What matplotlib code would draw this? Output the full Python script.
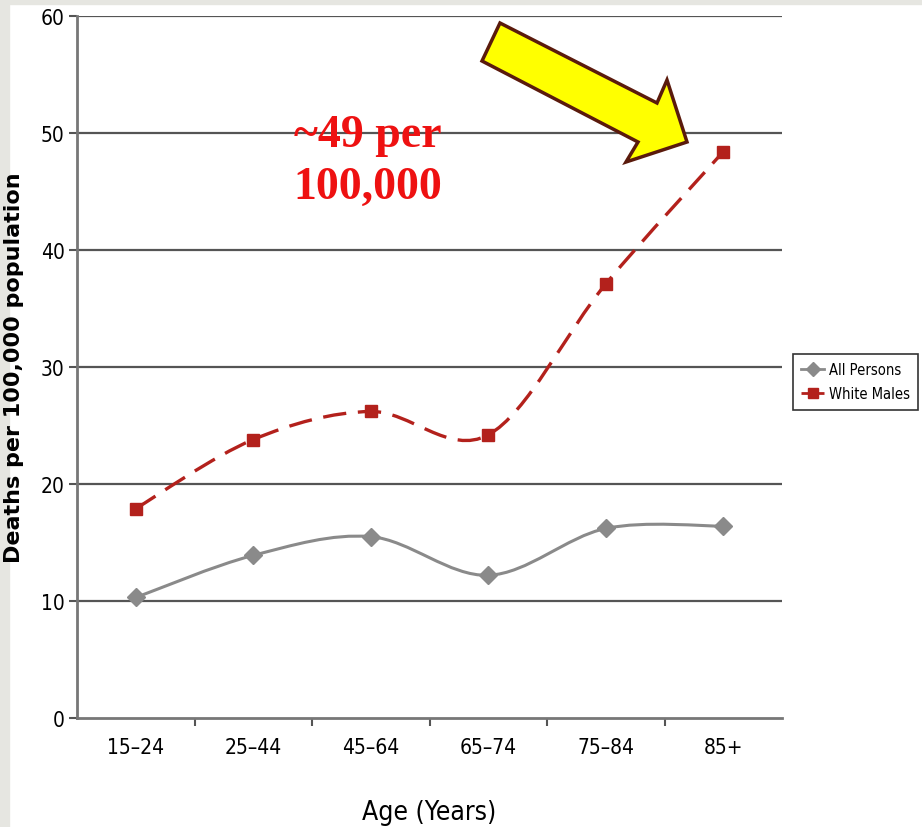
import numpy as np
import matplotlib
matplotlib.use('Agg')
import matplotlib.pyplot as plt
from matplotlib.path import Path
from matplotlib.patches import PathPatch, Polygon, Rectangle
from matplotlib.lines import Line2D
from matplotlib.font_manager import FontProperties

ages = ['15–24', '25–44', '45–64', '65–74', '75–84', '85+']
all_persons = [10.3, 13.9, 15.5, 12.2, 16.2, 16.4]
white_males = [17.9, 23.8, 26.2, 24.2, 37.1, 48.4]
yticks = [0, 10, 20, 30, 40, 50, 60]

gray = '#8a8a8a'
red = '#b3211c'


def narrow(size, weight='normal'):
    return FontProperties(family='DejaVu Sans', stretch='condensed', size=size, weight=weight)


def smooth_path(xs, ys):
    # bezier curve through the points, like a spreadsheet "smoothed line"
    pts = np.column_stack([xs, ys]).astype(float)
    n = len(pts)
    verts = [pts[0]]
    codes = [Path.MOVETO]
    for i in range(n - 1):
        p0 = pts[i - 1] if i > 0 else pts[i]
        p1 = pts[i]
        p2 = pts[i + 1]
        p3 = pts[i + 2] if i + 2 < n else pts[i + 1]
        c1 = p1 + (p2 - p0) / 6.0
        c2 = p2 - (p3 - p1) / 6.0
        verts += [c1, c2, p2]
        codes += [Path.CURVE4] * 3
    return Path(verts, codes)


fig = plt.figure(figsize=(9.22, 8.28), dpi=100)
fig.patch.set_facecolor('white')

# light frame strips from the slide
fig.patches.append(Rectangle((0, 0), 9 / 922, 1, transform=fig.transFigure, color='#e6e6e1', zorder=-1))
fig.patches.append(Rectangle((0, 1 - 5 / 828), 1, 5 / 828, transform=fig.transFigure, color='#e6e6e1', zorder=-1))

ax = fig.add_axes([77 / 922, 1 - 719 / 828, (782 - 77) / 922, (719 - 17) / 828])
x = np.arange(len(ages))

ax.add_patch(PathPatch(smooth_path(x, all_persons), fill=False, edgecolor=gray, lw=2.2, zorder=3))
ax.plot(x, all_persons, linestyle='none', marker='D', markersize=9, color=gray, zorder=4)

ax.add_patch(PathPatch(smooth_path(x, white_males), fill=False, edgecolor=red, lw=2.4,
                       linestyle=(0, (7, 3.5)), zorder=3))
ax.plot(x, white_males, linestyle='none', marker='s', markersize=9, color=red, zorder=4)

ax.set_xlim(-0.5, len(ages) - 0.5)
ax.set_ylim(0, 60)
ax.set_yticks(yticks)
ax.set_yticklabels([str(v) for v in yticks], fontproperties=narrow(15))
ax.set_xticks(x)
ax.set_xticklabels(ages, fontproperties=narrow(15))
ax.set_xticks(np.arange(0.5, len(ages) - 0.5, 1), minor=True)
ax.tick_params(axis='x', which='major', length=0, pad=14)
ax.tick_params(axis='x', which='minor', length=6, width=1.5, color='#555555')
ax.tick_params(axis='y', length=6, width=1.5, color='#555555', pad=3)

for v in yticks[1:]:
    ax.axhline(v, color='#555555', lw=1.6, zorder=1)

for s in ['top', 'right']:
    ax.spines[s].set_visible(False)
for s in ['left', 'bottom']:
    ax.spines[s].set_color('#777777')
    ax.spines[s].set_linewidth(2)

ax.set_ylabel('Deaths per 100,000 population', fontsize=16, fontweight='bold')
ax.yaxis.set_label_coords(-53 / 705, 0.5)
ax.set_xlabel('Age (Years)', fontproperties=narrow(19), labelpad=30)

handles = [Line2D([], [], color=gray, lw=2, marker='D', markersize=7),
           Line2D([], [], color=red, lw=2, ls=(0, (4, 2)), marker='s', markersize=7)]
leg = fig.legend(handles, ['All Persons', 'White Males'], loc='upper left',
                 bbox_to_anchor=(793 / 922, 1 - 355 / 828), prop=narrow(10.5),
                 fancybox=False, edgecolor='#333333', framealpha=1, handlelength=1.6,
                 borderpad=0.55, labelspacing=0.65, handletextpad=0.3, borderaxespad=0)
leg.get_frame().set_linewidth(1.2)

fig.text(368 / 922, 1 - 136 / 828, '~49 per', ha='center', va='center', color='#ee1111',
         fontsize=33, fontweight='bold', family='Liberation Serif')
fig.text(368 / 922, 1 - 188 / 828, '100,000', ha='center', va='center', color='#ee1111',
         fontsize=33, fontweight='bold', family='Liberation Serif')

arrow_px = [(500, 24), (657, 104), (667, 81), (687, 143), (626, 163), (638, 143), (482, 62)]
fig.patches.append(Polygon([(px / 922, 1 - py / 828) for px, py in arrow_px], closed=True,
                           transform=fig.transFigure, facecolor='#ffff00', edgecolor='#5a1a0c',
                           lw=2.5, zorder=5))

fig.savefig('out.png', dpi=100)
